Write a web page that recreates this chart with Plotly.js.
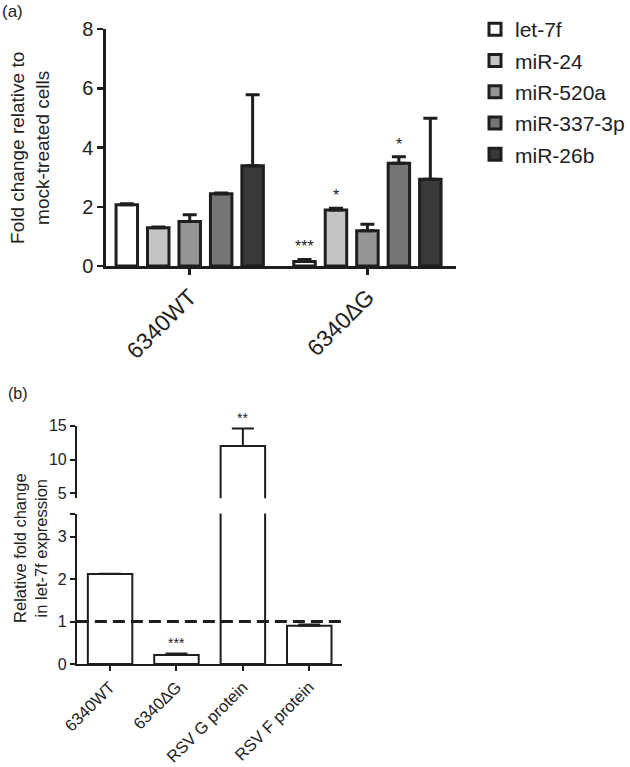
<!DOCTYPE html>
<html>
<head>
<meta charset="utf-8">
<script src="https://cdn.plot.ly/plotly-3.0.1.min.js"></script>
<style>html,body{margin:0;padding:0;background:#fff;}#chart{width:630px;height:767px;}</style>
</head>
<body>
<div id="chart"></div>
<script>
// ---------- Panel (a) data ----------
const groupsA = ['6340WT', '6340\u2206G'];
const seriesA = ['let-7f', 'miR-24', 'miR-520a', 'miR-337-3p', 'miR-26b'];
const let7f    = [2.07, 0.15];
const miR24    = [1.29, 1.89];
const miR520a  = [1.50, 1.19];
const miR337   = [2.44, 3.47];
const miR26b   = [3.38, 2.93];
const let7fErr   = [0.03, 0.07];
const miR24Err   = [0.03, 0.06];
const miR520aErr = [0.23, 0.22];
const miR337Err  = [0.02, 0.22];
const miR26bErr  = [2.40, 2.06];
const let7fSig   = ['', '***'];
const miR24Sig   = ['', '*'];
const miR520aSig = ['', ''];
const miR337Sig  = ['', '*'];
const miR26bSig  = ['', ''];
const yTicksA = [0, 2, 4, 6, 8];

// ---------- Panel (b) data ----------
const catsB = ['6340WT', '6340\u2206G', 'RSV G protein', 'RSV F protein'];
const valsB = [2.12, 0.21, 12.0, 0.90];
const errB  = [0.01, 0.04, 2.6, 0.03];
const sigB  = ['', '***', '**', ''];
const refLineB = 1;
const yTicksBLow = [0, 1, 2, 3];
const yTicksBHigh = [5, 10, 15];

const valuesA = [let7f, miR24, miR520a, miR337, miR26b];
const errsA = [let7fErr, miR24Err, miR520aErr, miR337Err, miR26bErr];
const sigsA = [let7fSig, miR24Sig, miR520aSig, miR337Sig, miR26bSig];
const fillsA = ['#ffffff', '#c4c4c4', '#959595', '#757575', '#393939'];

const ink = '#1e1e1e';
const FONT = 'Liberation Sans, Arial, Helvetica, sans-serif';
const bargap = 0.115;

const traces = [];
seriesA.forEach((name, i) => {
  traces.push({
    type: 'bar', name: name, x: groupsA, y: valuesA[i],
    xaxis: 'x', yaxis: 'y',
    legendgroup: name,
    marker: {color: fillsA[i], line: {color: ink, width: 3}},
    error_y: {type: 'data', array: errsA[i], arrayminus: groupsA.map(() => 0), symmetric: false,
              color: ink, thickness: 3, width: 7},
    hoverinfo: 'skip'
  });
});
// panel b: lower and upper segments of the broken axis, same data
['y2', 'y3'].forEach(ya => {
  traces.push({
    type: 'bar', x: catsB, y: valsB, xaxis: 'x2', yaxis: ya, width: 0.67,
    showlegend: false,
    marker: {color: '#ffffff', line: {color: ink, width: 2}},
    error_y: {type: 'data', array: errB, arrayminus: catsB.map(() => 0), symmetric: false,
              color: ink, thickness: 2, width: 11},
    hoverinfo: 'skip'
  });
});

const annotations = [];
const slot = (1 - bargap) / seriesA.length;
seriesA.forEach((name, i) => {
  groupsA.forEach((g, j) => {
    if (sigsA[i][j]) {
      annotations.push({
        xref: 'x', yref: 'y', x: j + (i - (seriesA.length - 1) / 2) * slot,
        y: valuesA[i][j] + errsA[i][j], yanchor: 'bottom', xanchor: 'center', yshift: 2,
        text: sigsA[i][j], showarrow: false, font: {family: FONT, size: 16, color: ink}
      });
    }
  });
});
catsB.forEach((c, j) => {
  if (sigB[j]) {
    annotations.push({
      xref: 'x2', yref: valsB[j] > 4 ? 'y3' : 'y2', x: j,
      y: valsB[j] + errB[j], yanchor: 'bottom', xanchor: 'center', yshift: 0,
      text: sigB[j], showarrow: false, font: {family: FONT, size: 14, color: ink}
    });
  }
});
annotations.push(
  {xref: 'paper', yref: 'paper', x: 30 / 630, y: 1 - 148 / 767, xanchor: 'center', yanchor: 'middle',
   text: 'Fold change relative to<br>mock-treated cells', textangle: -90, showarrow: false,
   font: {family: FONT, size: 19, color: '#222'}},
  {xref: 'paper', yref: 'paper', x: 30 / 630, y: 1 - 548 / 767, xanchor: 'center', yanchor: 'middle',
   text: 'Relative fold change<br>in let-7f expression', textangle: -90, showarrow: false,
   font: {family: FONT, size: 16.5, color: '#222'}},
  {xref: 'paper', yref: 'paper', x: 0, y: 1, xanchor: 'left', yanchor: 'top',
   text: '(a)', showarrow: false, font: {family: FONT, size: 17, color: '#222'}},
  {xref: 'paper', yref: 'paper', x: 6 / 630, y: 1 - 383 / 767, xanchor: 'left', yanchor: 'top',
   text: '(b)', showarrow: false, font: {family: FONT, size: 16, color: '#222'}}
);

const axisCommon = {
  showgrid: false, zeroline: false, showline: true, linecolor: ink,
  ticks: 'outside', tickcolor: ink, automargin: false, fixedrange: true
};

const layout = {
  width: 630, height: 767,
  margin: {l: 0, r: 0, t: 0, b: 0},
  paper_bgcolor: '#fff', plot_bgcolor: 'rgba(0,0,0,0)',
  font: {family: FONT, color: '#222'},
  barmode: 'group', bargap: bargap, bargroupgap: 0.317,
  showlegend: true,
  legend: {x: 476 / 630, y: 1 - 9 / 767, xanchor: 'left', yanchor: 'top',
           font: {family: FONT, size: 21, color: '#222'}, tracegroupgap: 1,
           bgcolor: 'rgba(0,0,0,0)'},
  xaxis: Object.assign({}, axisCommon, {
    domain: [106 / 630, 457 / 630], anchor: 'y', type: 'category',
    range: [-0.472, 1.5], linewidth: 2.5, tickwidth: 2.5, ticklen: 6,
    tickangle: -45, tickfont: {family: FONT, size: 23, color: '#222'}
  }),
  yaxis: Object.assign({}, axisCommon, {
    domain: [1 - 266 / 767, 1 - 29 / 767], anchor: 'x', range: [0, 8],
    tickvals: yTicksA, linewidth: 2.5, tickwidth: 2.5, ticklen: 6,
    tickfont: {family: FONT, size: 20, color: '#222'}
  }),
  xaxis2: Object.assign({}, axisCommon, {
    domain: [77 / 630, 343 / 630], anchor: 'y2', type: 'category',
    range: [-0.5, 3.5], linewidth: 2, tickwidth: 2, ticklen: 5,
    tickangle: -45, tickfont: {family: FONT, size: 16.5, color: '#222'}
  }),
  yaxis2: Object.assign({}, axisCommon, {
    domain: [1 - 664 / 767, 1 - 513.5 / 767], anchor: 'x2', range: [0, 3.55],
    tickvals: yTicksBLow.concat([3.55]), ticktext: yTicksBLow.map(String).concat(['']),
    linewidth: 2, tickwidth: 2, ticklen: 5,
    tickfont: {family: FONT, size: 16, color: '#222'}
  }),
  yaxis3: Object.assign({}, axisCommon, {
    domain: [1 - 498.3 / 767, 1 - 425.7 / 767], anchor: 'x2', range: [4.26, 15],
    tickvals: yTicksBHigh, linewidth: 2, tickwidth: 2, ticklen: 5,
    tickfont: {family: FONT, size: 16, color: '#222'}
  }),
  shapes: [{
    type: 'line', xref: 'x2', yref: 'y2', x0: -0.5, x1: 3.55, y0: refLineB, y1: refLineB,
    line: {color: ink, width: 3, dash: '12px,6px'}
  }],
  annotations: annotations
};

Plotly.newPlot('chart', traces, layout, {displayModeBar: false, staticPlot: true});
</script>
</body>
</html>
